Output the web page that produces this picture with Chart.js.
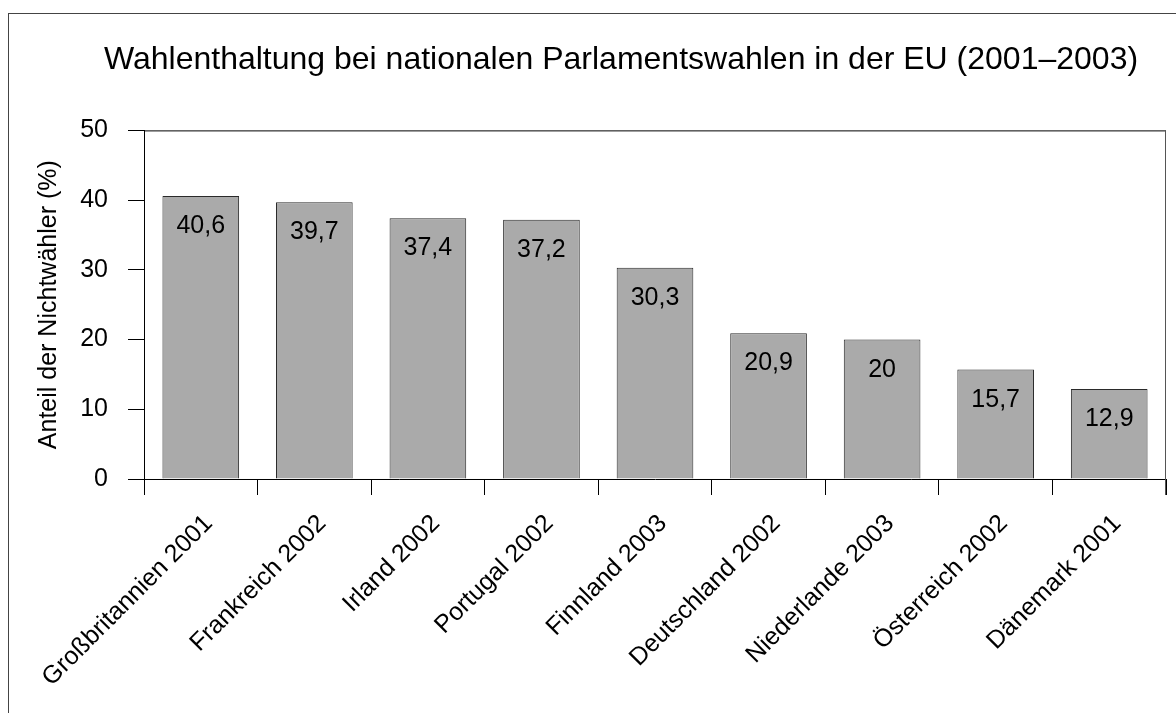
<!DOCTYPE html>
<html>
<head>
<meta charset="utf-8">
<script src="https://cdn.jsdelivr.net/npm/chart.js@4"></script>
<style>
    html, body { margin: 0; padding: 0; background: #fff; overflow: hidden; }
    #frame { position: absolute; left: 8px; top: 13px; width: 1300px; height: 900px; border: 1px solid #444; }
    #chart { position: absolute; left: 0; top: 0; }
</style>
</head>
<body>
<div id="frame"></div>
<canvas id="chart" width="1176" height="713"></canvas>
<script>
const countries = [
    'Großbritannien 2001', 'Frankreich 2002', 'Irland 2002', 'Portugal 2002', 'Finnland 2003',
    'Deutschland 2002', 'Niederlande 2003', 'Österreich 2002', 'Dänemark 2001'
];
const abstention = [40.6, 39.7, 37.4, 37.2, 30.3, 20.9, 20, 15.7, 12.9];
const yTicks = [0, 10, 20, 30, 40, 50];

const chartTitle = 'Wahlenthaltung bei nationalen Parlamentswahlen in der EU (2001–2003)';
const yTitle = 'Anteil der Nichtwähler (%)';

const FONT = "'Liberation Sans', Arial, Helvetica, sans-serif";
Chart.defaults.font.family = FONT;
Chart.defaults.color = '#000';

// values printed inside the top of each bar
const barLabels = {
    id: 'barLabels',
    afterDatasetsDraw: (c) => {
        const ctx = c.ctx;
        const meta = c.getDatasetMeta(0);
        ctx.save();
        ctx.font = '25px ' + FONT;
        ctx.fillStyle = '#000';
        ctx.textAlign = 'center';
        ctx.textBaseline = 'alphabetic';
        meta.data.forEach((bar, i) => {
            const txt = String(abstention[i]).replace('.', ',');
            ctx.fillText(txt, bar.x, bar.y + 37);
        });
        ctx.restore();
    }
};

// box lines on top and right of the plot area
const plotBox = {
    id: 'plotBox',
    afterDraw: (c) => {
        const a = c.chartArea;
        const ctx = c.ctx;
        ctx.save();
        ctx.lineWidth = 1;
        ctx.strokeStyle = '#000';
        ctx.beginPath();
        ctx.moveTo(a.left, a.top + 0.5);
        ctx.lineTo(a.right, a.top + 0.5);
        ctx.stroke();
        ctx.strokeStyle = '#555';
        ctx.beginPath();
        ctx.moveTo(a.right - 0.5, a.top);
        ctx.lineTo(a.right - 0.5, a.bottom + 16);
        ctx.stroke();
        ctx.restore();
    }
};

new Chart(document.getElementById('chart'), {
    type: 'bar',
    data: {
        labels: countries,
        datasets: [{
            data: abstention,
            backgroundColor: '#aaaaaa',
            borderColor: '#2a2a2a',
            borderWidth: 1,
            barPercentage: 0.675,
            categoryPercentage: 1
        }]
    },
    options: {
        responsive: false,
        animation: false,
        devicePixelRatio: 1,
        layout: { padding: { left: 76, right: 10, top: 0, bottom: 0 } },
        plugins: {
            legend: { display: false },
            tooltip: { enabled: false },
            title: {
                display: true,
                text: chartTitle,
                color: '#000',
                font: { size: 32, weight: 'normal', family: FONT },
                padding: { top: 41, bottom: 51 }
            }
        },
        scales: {
            x: {
                grid: {
                    offset: true,
                    drawOnChartArea: false,
                    tickLength: 16,
                    color: '#000',
                    tickColor: '#000'
                },
                border: { color: '#000', width: 1 },
                ticks: {
                    autoSkip: false,
                    maxRotation: 45,
                    minRotation: 45,
                    padding: 14,
                    labelOffset: 8,
                    font: { size: 25 },
                    color: '#000'
                },
                afterFit: (s) => { s.height = 234; }
            },
            y: {
                min: 0,
                max: 50,
                afterBuildTicks: (s) => { s.ticks = yTicks.map(v => ({ value: v })); },
                grid: {
                    drawOnChartArea: false,
                    tickLength: 16,
                    color: '#000',
                    tickColor: '#000'
                },
                border: { color: '#000', width: 1 },
                ticks: {
                    padding: 20,
                    font: { size: 25 },
                    color: '#000'
                },
                title: {
                    display: true,
                    text: yTitle,
                    color: '#000',
                    font: { size: 25 },
                    padding: { top: -42, bottom: 0 }
                },
                afterFit: (s) => { s.width = 68; }
            }
        }
    },
    plugins: [barLabels, plotBox]
});
</script>
</body>
</html>
